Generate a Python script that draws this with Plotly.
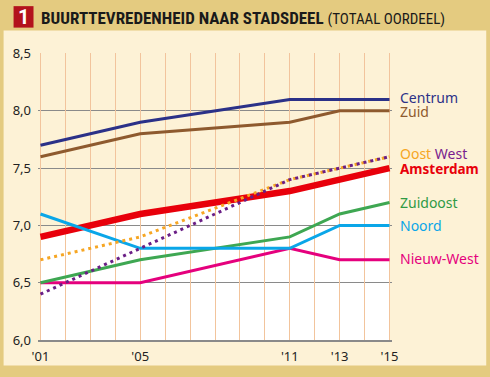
import plotly.graph_objects as go

years = [2001, 2005, 2011, 2013, 2015]
x_tick_vals = [2001, 2005, 2011, 2013, 2015]
x_tick_text = ["'01", "'05", "'11", "'13", "'15"]
y_tick_vals = [6.0, 6.5, 7.0, 7.5, 8.0, 8.5]

amsterdam = [6.9, 7.1, 7.3, 7.4, 7.5]
centrum = [7.7, 7.9, 8.1, 8.1, 8.1]
zuid = [7.6, 7.8, 7.9, 8.0, 8.0]
oost = [6.7, 6.9, 7.4, 7.5, 7.6]
west = [6.4, 6.8, 7.4, 7.5, 7.6]
zuidoost = [6.5, 6.7, 6.9, 7.1, 7.2]
noord = [7.1, 6.8, 6.8, 7.0, 7.0]
nieuw_west = [6.5, 6.5, 6.8, 6.7, 6.7]

TAN = "#e4cb80"
CREAM = "#fdf2d6"
FONT = "Noto Sans"

# pixel layout helpers
W, H = 490, 377
ML, MR, MT, MB = 37.5, 97.5, 53, 30
PW = W - ML - MR
PH = H - MT - MB
def px(x):
    return (x - ML) / PW
def py(y):
    return (H - MB - y) / PH

fig = go.Figure()

series = [
    ("Amsterdam", amsterdam, "#e8000b", 6.5, "solid"),
    ("Nieuw-West", nieuw_west, "#e5007d", 3, "solid"),
    ("Zuidoost", zuidoost, "#3ea752", 3, "solid"),
    ("Noord", noord, "#0aa6e8", 3, "solid"),
    ("Zuid", zuid, "#8e5a2e", 3, "solid"),
    ("Centrum", centrum, "#2b3188", 3, "solid"),
    ("Oost", oost, "#f6a623", 3, "3px,4px"),
    ("West", west, "#6a1e86", 3, "3px,4px"),
]
for name, vals, color, w, dash in series:
    fig.add_trace(go.Scatter(x=years, y=vals, mode="lines", name=name,
                             line=dict(color=color, width=w, dash=dash),
                             hoverinfo="skip", showlegend=False))

# white area under the Amsterdam line
path = f"M {years[0]},{y_tick_vals[0]} " + " ".join(
    f"L {x},{y}" for x, y in zip(years, amsterdam)) + f" L {years[-1]},{y_tick_vals[0]} Z"

shapes = [
    dict(type="rect", xref="paper", yref="paper", x0=px(3), x1=px(487), y0=py(373), y1=py(30),
         fillcolor=CREAM, line=dict(width=0), layer="below"),
    dict(type="path", xref="x", yref="y", path=path, fillcolor="white",
         line=dict(width=0), layer="below"),
    dict(type="rect", xref="paper", yref="paper", x0=px(13), x1=px(33), y0=py(27), y1=py(5),
         fillcolor="#b3121c", line=dict(width=0), layer="above"),
]

labels = [
    ("Centrum", centrum[-1], "#2b3188", False, 2),
    ("Zuid", zuid[-1], "#8e5a2e", False, -1),
    ("<span style='color:#f6a623'>Oost</span> <span style='color:#7a1e8e'>West</span>", oost[-1], "#f6a623", False, 3),
    ("Amsterdam", amsterdam[-1], "#e8000b", True, -1),
    ("Zuidoost", zuidoost[-1], "#2f9a45", False, 0),
    ("Noord", noord[-1], "#0aa6e8", False, 0),
    ("Nieuw-West", nieuw_west[-1], "#e5007d", False, 1),
]
annotations = []
for text, yv, color, bold, ys in labels:
    annotations.append(dict(x=years[-1], y=yv, xref="x", yref="y", text=f"<b>{text}</b>" if bold else text,
                            showarrow=False, xanchor="left", yanchor="middle", xshift=8, yshift=ys,
                            font=dict(family=FONT, size=14 if not bold else 13.5, color=color)))

annotations.append(dict(x=px(23), y=py(16), xref="paper", yref="paper", text="<b>1</b>", showarrow=False,
                        xanchor="center", yanchor="middle",
                        font=dict(family="Roboto", size=20, color="white")))
annotations.append(dict(x=px(39), y=py(17), xref="paper", yref="paper",
                        text="<b>BUURTTEVREDENHEID NAAR STADSDEEL</b> <span style='font-size:15px'>(TOTAAL OORDEEL)</span>",
                        showarrow=False, xanchor="left", yanchor="middle",
                        font=dict(family="Liberation Sans Narrow, Roboto Condensed, Roboto", size=17, color="#1a1a1a")))

fig.update_layout(
    width=W, height=H,
    margin=dict(l=ML, r=MR, t=MT, b=MB, pad=0),
    paper_bgcolor=TAN, plot_bgcolor=CREAM,
    separators=",.",
    shapes=shapes, annotations=annotations,
    showlegend=False,
    xaxis=dict(range=[2000.9, 2015.1], tickmode="array", tickvals=x_tick_vals, ticktext=x_tick_text,
               showgrid=False, zeroline=False, showline=True, linecolor="#8a8a8a", linewidth=1.5,
               ticks="", ticklabelstandoff=4,
               tickfont=dict(family=FONT, size=13, color="#222")),
    yaxis=dict(range=[6.0, 8.505], tickmode="array", tickvals=y_tick_vals, tickformat=".1f",
               showgrid=True, gridcolor="#8a8a8a", gridwidth=1.2, zeroline=False, showline=False,
               ticks="", ticklabelstandoff=6,
               tickfont=dict(family=FONT, size=13, color="#222")),
)

# vertical yearly gridlines via a secondary x axis grid
fig.update_layout(xaxis2=dict(overlaying="x", range=[2000.9, 2015.1], tick0=2001, dtick=1,
                              showgrid=True, gridcolor="#f2c49c", gridwidth=1, showticklabels=False,
                              zeroline=False, showline=False, ticks=""))
fig.add_trace(go.Scatter(x=[years[0]], y=[y_tick_vals[0]], xaxis="x2", mode="markers",
                         marker=dict(opacity=0), hoverinfo="skip", showlegend=False))

fig.write_html("out.html", config={"displayModeBar": False},
               post_script="document.body.style.margin='0';document.body.style.padding='0';")
